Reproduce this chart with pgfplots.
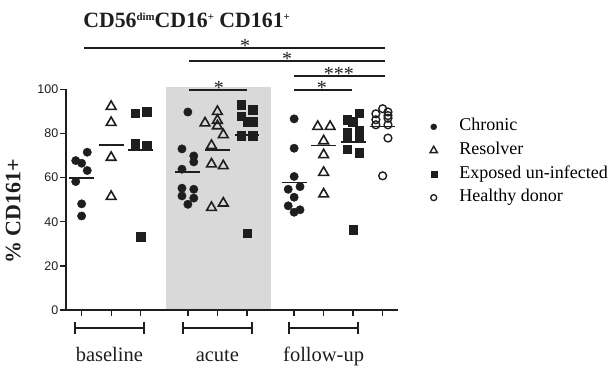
\documentclass[border=0pt]{standalone}
\usepackage{fontspec}
\setmainfont{Liberation Serif}
\newfontfamily\arial{Liberation Sans}
\usepackage{pgfplots}
\pgfplotsset{compat=1.18}
\definecolor{bggray}{RGB}{217,217,217}
\definecolor{ink}{RGB}{30,30,30}
\pgfplotsset{
  chron/.style={only marks, mark=*, mark size=4.2bp, ink, forget plot},
  resol/.style={only marks, mark=triangle, mark size=5.6bp, line width=1.6bp, ink, forget plot},
  expos/.style={only marks, mark=square*, mark size=4.2bp, ink, forget plot},
  healthy/.style={only marks, mark=o, mark size=3.9bp, line width=1.4bp, ink, forget plot},
  meanl/.style={ink, line width=1.6bp, forget plot, no marks},
}
\newcommand\sups[1]{\raisebox{7bp}{\fontsize{10.8bp}{11bp}\selectfont #1}}
\begin{document}
\begin{tikzpicture}
\useasboundingbox (-66bp,-56bp) rectangle (542bp,310bp);
\begin{axis}[
  scale only axis,
  width=332bp, height=220.7bp,
  xmin=0.47, xmax=11.72, ymin=0, ymax=100,
  axis lines=left,
  axis line style={-, line width=1.3bp, ink},
  axis on top,
  clip=false,
  xtick={1,2,3,4.6,5.6,6.6,8.2,9.2,10.2,11.2},
  xticklabels={},
  ytick={0,20,40,60,80,100},
  tick align=outside,
  major tick length=6bp,
  tick style={line width=1.3bp, ink},
  /pgf/number format/assume math mode=true,
  yticklabel style={font=\arial\fontsize{12.5bp}{14bp}\selectfont, text=ink, inner sep=1.5bp},
  legend image code/.code={\draw[#1] plot coordinates {(0bp,0bp)};},
  legend style={draw=none, fill=none, at={(1.096,0.867)}, anchor=north west,
    font=\fontsize{18bp}{20bp}\selectfont, inner sep=0pt,
    nodes={inner sep=0pt, text height=12bp, text depth=4bp},
    row sep=7.6bp,
    /tikz/every odd column/.append style={column sep=22bp}},
  legend cell align=left,
]
\fill[bggray] (axis cs:3.86,0) rectangle (axis cs:7.42,101);
\draw[ink, line width=1.3bp] (axis cs:0.33,0) -- (axis cs:0.47,0);

\addlegendimage{only marks, mark=*, mark size=3bp, ink}
\addlegendentry{Chronic}
\addlegendimage{only marks, mark=triangle, mark size=4.2bp, line width=1.4bp, ink}
\addlegendentry{Resolver}
\addlegendimage{only marks, mark=square*, mark size=3bp, ink}
\addlegendentry{Exposed un-infected}
\addlegendimage{only marks, mark=o, mark size=3bp, line width=1.3bp, ink}
\addlegendentry{Healthy donor}

% baseline
\addplot[chron] coordinates {(1.19,71.5) (0.8,67.7) (1.0,66.5) (1.19,63.2) (0.8,58.2) (1.0,48.1) (1.0,42.6)};
\addplot[resol] coordinates {(2,92.2) (2,84.9) (2,69.1) (2,51.4)};
\addplot[expos] coordinates {(2.81,89.2) (3.2,89.9) (2.81,75.3) (3.2,74.4) (3.0,33.2)};
% acute
\addplot[chron] coordinates {(4.6,89.7) (4.4,73.0) (4.8,69.8) (4.8,67.1) (4.4,63.8) (4.4,55.2) (4.8,54.7) (4.4,51.7) (4.8,50.7) (4.6,47.9)};
\addplot[resol] coordinates {(5.6,89.9) (5.18,84.7) (5.6,85.9) (5.6,83.4) (5.8,79.4) (5.4,74.5) (5.4,66.1) (5.8,65.3) (5.4,46.4) (5.8,48.4)};
\addplot[expos] coordinates {(6.4,93.0) (6.8,90.7) (6.4,87.7) (6.62,85.4) (6.8,85.4) (6.4,79.0) (6.8,79.0) (6.6,34.8)};
% follow-up
\addplot[chron] coordinates {(8.2,86.6) (8.2,73.3) (8.2,60.5) (8.0,54.7) (8.4,55.9) (8.2,51.1) (8.0,47.2) (8.2,44.3) (8.4,45.4)};
\addplot[resol] coordinates {(9.0,83.1) (9.42,83.1) (9.2,76.6) (9.2,70.3) (9.2,62.3) (9.2,52.5)};
\addplot[expos] coordinates {(10.0,86.2) (10.4,89.2) (10.18,85.4) (10.0,80.4) (10.4,81.6) (10.0,77.9) (10.4,78.6) (10.0,72.9) (10.4,71.3) (10.2,36.3)};
\addplot[healthy] coordinates {(11.2,91.2) (10.97,88.9) (11.38,89.7) (10.97,86.2) (11.38,88.1) (11.38,86.9) (10.97,83.9) (11.38,83.9) (11.38,77.9) (11.2,60.8)};

% means
\addplot[meanl] coordinates {(0.58,59.7) (1.42,59.7)};
\addplot[meanl] coordinates {(1.58,74.8) (2.42,74.8)};
\addplot[meanl] coordinates {(2.58,72.4) (3.42,72.4)};
\addplot[meanl] coordinates {(4.18,62.4) (5.02,62.4)};
\addplot[meanl] coordinates {(5.18,72.6) (6.02,72.6)};
\addplot[meanl] coordinates {(6.18,79.4) (7.02,79.4)};
\addplot[meanl] coordinates {(7.78,57.7) (8.62,57.7)};
\addplot[meanl] coordinates {(8.78,74.5) (9.62,74.5)};
\addplot[meanl] coordinates {(9.78,76.1) (10.62,76.1)};
\addplot[meanl] coordinates {(10.78,83.1) (11.62,83.1)};

% significance bars
\begin{scope}[ink, line width=1.6bp]
\draw (axis cs:1.08,118.7) -- (axis cs:11.28,118.7);
\draw (axis cs:4.64,112.9) -- (axis cs:11.28,112.9);
\draw (axis cs:8.2,106.1) -- (axis cs:11.28,106.1);
\draw (axis cs:8.2,99.8) -- (axis cs:10.16,99.8);
\draw (axis cs:4.64,99.8) -- (axis cs:6.6,99.8);
\end{scope}
\begin{scope}[every node/.style={font=\fontsize{20bp}{22bp}\selectfont, text=ink, anchor=base, inner sep=0pt}]
\node at (axis cs:6.54,116.5) {*};
\node at (axis cs:7.96,110.7) {*};
\node at (axis cs:9.72,103.9) {***};
\node at (axis cs:9.14,97.6) {*};
\node at (axis cs:5.65,97.6) {*};
\end{scope}

% group brackets
\begin{scope}[ink, line width=2bp]
\draw (axis cs:0.76,-8.3) -- (axis cs:3.12,-8.3);
\draw (axis cs:0.76,-5.3) -- (axis cs:0.76,-10.9);
\draw (axis cs:3.12,-5.3) -- (axis cs:3.12,-10.9);
\draw (axis cs:4.42,-8.3) -- (axis cs:6.78,-8.3);
\draw (axis cs:4.42,-5.3) -- (axis cs:4.42,-10.9);
\draw (axis cs:6.78,-5.3) -- (axis cs:6.78,-10.9);
\draw (axis cs:8.02,-8.3) -- (axis cs:10.38,-8.3);
\draw (axis cs:8.02,-5.3) -- (axis cs:8.02,-10.9);
\draw (axis cs:10.38,-5.3) -- (axis cs:10.38,-10.9);
\end{scope}
\begin{scope}[every node/.style={font=\fontsize{20.5bp}{22bp}\selectfont, text=ink, anchor=base, inner sep=0pt}]
\node at (axis cs:1.94,-23.4) {baseline};
\node at (axis cs:5.6,-23.4) {acute};
\node at (axis cs:9.2,-23.4) {follow-up};
\end{scope}

% title and y label
\node[anchor=base west, inner sep=0pt, font=\fontsize{21.8bp}{24bp}\selectfont\bfseries, text=ink] at (axis cs:1.05,127.8) {CD56\sups{dim}CD16\sups{+} CD161\sups{+}};
\node[rotate=90, inner sep=0pt, font=\fontsize{22bp}{24bp}\selectfont\bfseries, text=ink] at (axis cs:-1.32,44.7) {\% CD161+};
\end{axis}
\end{tikzpicture}
\end{document}
